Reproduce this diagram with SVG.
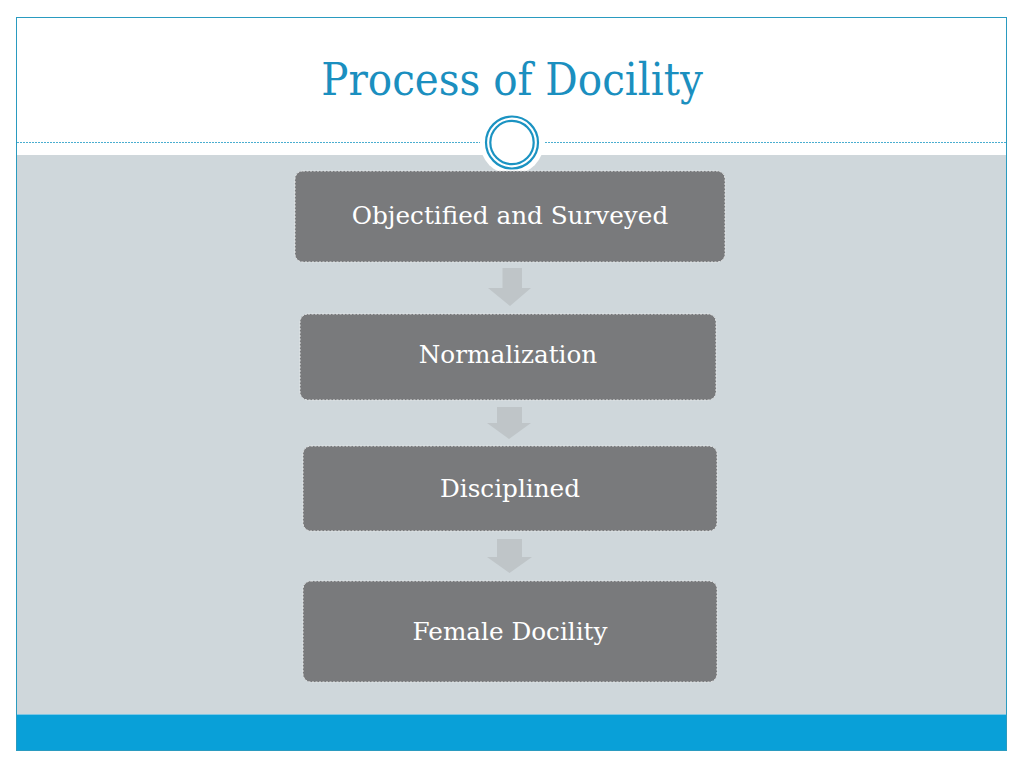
<svg xmlns="http://www.w3.org/2000/svg" width="1024" height="768" viewBox="0 0 1024 768">
<style>
.node rect{fill:#797a7c;stroke:#e6e8e9;stroke-width:1;stroke-dasharray:2 1.5}
.node text{fill:#ffffff;font-family:"DejaVu Serif","Liberation Serif",serif;font-size:24.7px;text-anchor:middle}
.arrow{fill:#bfc5c8}
</style>
<rect x="0" y="0" width="1024" height="768" fill="#ffffff"/>
<rect x="16.5" y="155" width="990" height="560" fill="#cfd7db"/>
<rect x="16.5" y="715" width="990" height="35" fill="#09a0d8"/>
<line x1="16.5" y1="714.5" x2="1006.5" y2="714.5" stroke="#7cc6e4" stroke-width="1"/>
<rect x="16.5" y="17.5" width="990" height="733" fill="none" stroke="#2a9bc0" stroke-width="1"/>
<line x1="17" y1="142.5" x2="1006" y2="142.5" stroke="#4aaed0" stroke-width="1" stroke-dasharray="2 1"/>
<circle cx="512" cy="142.5" r="32" fill="#ffffff"/>
<circle cx="512" cy="142.5" r="26" fill="none" stroke="#1b93c2" stroke-width="2.2"/>
<circle cx="512" cy="142.5" r="21.7" fill="none" stroke="#1b93c2" stroke-width="2.2"/>
<text x="512" y="95" fill="#1b8fbf" font-family="'DejaVu Serif Condensed','DejaVu Serif','Liberation Serif',serif" font-stretch="condensed" font-size="45" text-anchor="middle">Process of Docility</text>
<g id="connectors">
<path class="arrow" d="M502.5 268 H522 V288 H531 L510 306 L488 288 H502.5 Z"/>
<path class="arrow" d="M497 407 H522 V423 H531 L509 439 L487 423 H497 Z"/>
<path class="arrow" d="M497 539 H522 V557 H532 L509.5 573 L487 557 H497 Z"/>
</g>
<g id="n1" class="node"><rect x="295" y="171" width="430" height="91" rx="8"/><text x="510" y="224">Objectified and Surveyed</text></g>
<g id="n2" class="node"><rect x="300" y="314" width="416" height="86" rx="8"/><text x="508" y="363">Normalization</text></g>
<g id="n3" class="node"><rect x="303" y="446" width="414" height="85" rx="8"/><text x="510" y="497">Disciplined</text></g>
<g id="n4" class="node"><rect x="303" y="581" width="414" height="101" rx="8"/><text x="510" y="640">Female Docility</text></g>
</svg>
